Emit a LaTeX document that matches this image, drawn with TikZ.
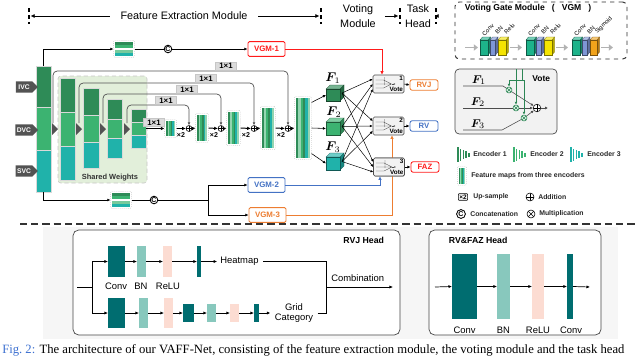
\documentclass[tikz,border=0pt]{standalone}
\usepackage{fontspec}
\usepackage{amsmath}
\setmainfont{Liberation Sans}
\newfontfamily\capfont{Liberation Serif}
\usetikzlibrary{arrows.meta,calc,fit,positioning,shapes.symbols}

\definecolor{encA}{HTML}{2E8B57}
\definecolor{encB}{HTML}{3CB371}
\definecolor{encC}{HTML}{20B2AA}
\definecolor{sharedbg}{HTML}{E2EFDA}
\definecolor{vgmred}{HTML}{FF1A1A}
\definecolor{vgmblue}{HTML}{4472C4}
\definecolor{vgmorange}{HTML}{ED7D31}
\definecolor{convgreen}{HTML}{1DB38A}
\definecolor{bnblue}{HTML}{7E96D6}
\definecolor{reluyellow}{HTML}{F5E400}
\definecolor{sigorange}{HTML}{F2A31B}
\definecolor{headdark}{HTML}{006D70}
\definecolor{headbn}{HTML}{88C8BD}
\definecolor{headrelu}{HTML}{FCDCD2}
\definecolor{figblue}{HTML}{3B6FD0}

\newcommand{\setfs}[2]{\fontsize{#1}{#2}\selectfont}

% feature map icon, vertical stripes
\newcommand{\featmap}[5]{%
  \foreach \i/\clr in {0/encA,1/encB!55!white,2/encB,3/encA,4/encC,5/encB!55!white}
    \fill[\clr] ({#2+\i*(#4-#2)/6},#3) rectangle ({#2+(\i+1)*(#4-#2)/6},#5);
  \node[fit={(#2,#3) (#4,#5)}, box, inner sep=1.1pt, draw=gray!55, densely dotted, rounded corners=1pt] (#1) {};
}
% concat input icon, horizontal stripes
\newcommand{\catmap}[5]{%
  \foreach \i/\clr in {0/encA,1/encB,2/white,3/encB!70!white,4/encC}
    \fill[\clr] (#2,{#3+\i*(#5-#3)/5}) rectangle (#4,{#3+(\i+1)*(#5-#3)/5});
  \node[fit={(#2,#3) (#4,#5)}, box, inner sep=1.1pt, draw=gray!55, densely dotted, rounded corners=1pt] (#1) {};
}
% encoder legend icon
\newcommand{\encicon}[3]{%
  \foreach \i/\h in {0/7.5,1/6,2/4.5,3/3.2,4/2}
    \fill[#3] ({#1+\i*2.8},{#2-\h}) rectangle ({#1+\i*2.8+1.6},{#2+\h});
}
% feature cube
\newcommand{\fcube}[6]{%
  \filldraw[#6!65!white, draw=#6!50!black, line width=0.2pt] (#2,#3) -- (#2+4,#3-4) -- (#4+4,#3-4) -- (#4,#3) -- cycle;
  \filldraw[#6!75!black, draw=#6!50!black, line width=0.2pt] (#4,#3) -- (#4+4,#3-4) -- (#4+4,#5-4) -- (#4,#5) -- cycle;
  \node[fit={(#2,#3) (#4,#5)}, box, fill=#6, draw=#6!50!black, line width=0.2pt] (#1) {};
}
% slab in the VGM legend
\newcommand{\vgmslab}[5]{%
  \filldraw[#5!75!black, draw=#5!50!black, line width=0.2pt] (#2,#3) -- (#2+2.5,#3-3) -- (#2+2.5,#4-3) -- (#2,#4) -- cycle;
  \filldraw[#5!60!white, draw=#5!50!black, line width=0.2pt] (#1,#3) -- (#1+2.5,#3-3) -- (#2+2.5,#3-3) -- (#2,#3) -- cycle;
  \filldraw[#5, draw=#5!50!black, line width=0.2pt] (#1,#3) rectangle (#2,#4);
}
% small sketch inside a vote box
\newcommand{\voteicon}[1]{%
  \draw[gray!60!black, line width=0.25pt]
    ($(#1.center)+(-13,-4)$) -- ($(#1.center)+(-5,-4)$) -- ($(#1.center)+(3,0)$)
    ($(#1.center)+(-13,0)$) -- ($(#1.center)+(3,0)$)
    ($(#1.center)+(-13,4)$) -- ($(#1.center)+(-5,4)$) -- ($(#1.center)+(3,0)$)
    ($(#1.center)+(-4,-7)$) -- ($(#1.center)+(-4,1)$);
  \draw[gray!60!black, line width=0.25pt, -{Latex[length=1.2pt,width=1.2pt]}] ($(#1.center)+(3,0)$) -- ($(#1.center)+(7,0)$);
}

\tikzset{
  box/.style={inner sep=0pt, outer sep=0pt},
  seg/.style={box, draw=white!85!black, line width=0.25pt},
  tick/.style={densely dashed, line width=0.9pt},
  ruler/.style={line width=0.7pt, -{Latex[length=3pt,width=3pt]}},
  skip/.style={gray!65!black, line width=0.5pt, rounded corners=3pt, -{Latex[length=2pt,width=2pt]}},
  onebyone/.style={fill=gray!28, draw=gray!45, inner xsep=2.6pt, inner ysep=0.9pt, font=\bfseries\setfs{5.6}{6}},
  flow/.style={line width=0.7pt, -{Latex[length=2.5pt,width=2.5pt]}},
  thinflow/.style={line width=0.4pt, -{Latex[length=2.2pt,width=2pt]}},
  addop/.style={circle, draw, inner sep=0pt, minimum size=#1, fill=white,
    path picture={\draw (path picture bounding box.north) -- (path picture bounding box.south)
      (path picture bounding box.west) -- (path picture bounding box.east);}},
  mulop/.style={circle, draw, inner sep=0pt, minimum size=#1, fill=white,
    path picture={\draw (path picture bounding box.north west) -- (path picture bounding box.south east)
      (path picture bounding box.north east) -- (path picture bounding box.south west);}},
  catop/.style={circle, draw, line width=0.6pt, inner sep=0pt, minimum size=#1, fill=white, font=\bfseries\setfs{5}{5}},
  invec/.style={signal, signal to=east, fill=gray!65!black, text=white, font=\bfseries\setfs{4.8}{5},
    inner sep=1pt, minimum height=0.28cm, minimum width=0.55cm},
  vgm/.style={draw=#1, line width=0.7pt, fill=white, rounded corners=1pt, text=#1,
    font=\bfseries\setfs{5.6}{6}, minimum width=0.925cm, minimum height=0.37cm, inner sep=0pt},
  outbox/.style={draw=#1, line width=0.6pt, fill=white, rounded corners=1.5pt, text=#1,
    font=\bfseries\setfs{5.5}{6}, minimum width=0.7cm, minimum height=0.26cm, inner sep=0pt},
  votebox/.style={draw=gray!60!black, fill=gray!10, rounded corners=1pt, line width=0.4pt,
    minimum width=0.775cm, minimum height=0.45cm, inner sep=0pt},
  votetxt/.style={font=\bfseries\setfs{4.5}{5}, inner sep=0.8pt},
  vgmarrow/.style={gray!60, line width=1.4pt, -{Triangle[length=3pt,width=4.5pt]}},
  slabtxt/.style={rotate=45, anchor=west, inner sep=0pt, font=\setfs{4.2}{5}},
  legline/.style={gray!60!black, line width=0.4pt},
  gateline/.style={encB!75!black, line width=0.5pt},
  legend/.style={font=\bfseries\setfs{4.9}{6}, anchor=west, inner sep=0pt, text=black!85},
  headtxt/.style={font=\setfs{6.7}{7.6}},
  hflow/.style={line width=0.5pt, -{Latex[length=2.5pt,width=2.2pt]}},
}

\begin{document}
\begin{tikzpicture}[x=0.025cm, y=-0.025cm]
\useasboundingbox (0,0) rectangle (640,356);

% module ruler
\draw[tick] (29,8) -- (29,24);
\draw[tick] (321,8) -- (321,24);
\draw[tick] (400,8) -- (400,24);
\draw[tick] (436,8) -- (436,24);
\coordinate (t0) at (30.5,16);
\coordinate (t1) at (319.5,16);
\coordinate (t2) at (398.5,16);
\coordinate (t3) at (434.5,16);
\node[font=\setfs{7.7}{10.5}] (fem) at (184,16) {Feature Extraction Module};
\node[font=\setfs{7.7}{10.5}, align=center] (vm) at (358,16) {Voting\\Module};
\node[font=\setfs{7.7}{10.5}, align=center] (th) at (418,16) {Task\\Head};
\draw[ruler] ([xshift=-4pt]fem.west) -- (t0);
\draw[ruler] ([xshift=4pt]fem.east) -- (t1);
\draw[ruler] ([xshift=3pt]vm.east) -- (t2);
\draw[ruler] (th.east) -- (t3);

% shared weights area
\node[fit={(58,76) (147,183)}, box, fill=sharedbg, draw=gray!45, densely dashed, rounded corners=2pt] (shared) {};
\node[font=\bfseries\setfs{5.3}{6}, text=black!80] (sharedtxt) at (110,178) {Shared Weights};

% skip connections
\coordinate (tri1) at (53,123);
\coordinate (tri2) at (79,123);
\coordinate (tri3) at (103,123);
\coordinate (tri4) at (127,123);
\node[addop=0.15cm] (add1) at (189,128.5) {};
\node[addop=0.15cm] (add2) at (221,128.5) {};
\node[addop=0.15cm] (add3) at (254,128.5) {};
\node[addop=0.15cm] (add4) at (288,128.5) {};
\draw[skip] (tri1) |- (add4.north |- 0,71) -- (add4.north);
\draw[skip] (tri2) |- (add3.north |- 0,83) -- (add3.north);
\draw[skip] (tri3) |- (add2.north |- 0,94) -- (add2.north);
\draw[skip] (tri4) |- (add1.north |- 0,105) -- (add1.north);
\node[onebyone] (k1) at (226,66) {1×1};
\node[onebyone] (k2) at (206,78.5) {1×1};
\node[onebyone] (k3) at (187,89.5) {1×1};
\node[onebyone] (k4) at (166,100.5) {1×1};

% input column
\node[fit={(36,66) (51,107)}, seg, fill=encA] (c0a) {};
\node[fit={(36,107) (51,150)}, seg, fill=encB] (c0b) {};
\node[fit={(36,150) (51,192)}, seg, fill=encC] (c0c) {};
\node[invec] (ivc) at (24,87) {IVC};
\node[invec] (dvc) at (24,130) {DVC};
\node[invec] (svc) at (24,171) {SVC};

% encoder columns
\node[fit={(60,78) (75,112)}, seg, fill=encA] (cAa) {};
\node[fit={(60,112) (75,146)}, seg, fill=encB] (cAb) {};
\node[fit={(60,146) (75,180)}, seg, fill=encC] (cAc) {};
\node[fit={(83,88) (99,115)}, seg, fill=encA] (cBa) {};
\node[fit={(83,115) (99,142)}, seg, fill=encB] (cBb) {};
\node[fit={(83,142) (99,168)}, seg, fill=encC] (cBc) {};
\node[fit={(107,99) (122,119)}, seg, fill=encA] (cCa) {};
\node[fit={(107,119) (122,138)}, seg, fill=encB] (cCb) {};
\node[fit={(107,138) (122,158)}, seg, fill=encC] (cCc) {};
\node[fit={(131,109) (146,122)}, seg, fill=encA] (cDa) {};
\node[fit={(131,122) (146,135)}, seg, fill=encB] (cDb) {};
\node[fit={(131,135) (146,148)}, seg, fill=encC] (cDc) {};
\fill[gray!65!black] (52,123) -- (58,129) -- (52,135) -- cycle;
\fill[gray!65!black] (76,123) -- (82,129) -- (76,135) -- cycle;
\fill[gray!65!black] (100,123) -- (106,129) -- (100,135) -- cycle;
\fill[gray!65!black] (124,123) -- (130,129) -- (124,135) -- cycle;

% decoder
\featmap{fm1}{166}{121}{175}{136}
\featmap{fm2}{197}{115}{207}{141}
\featmap{fm3}{228}{112}{239}{144}
\featmap{fm4}{262}{108}{274}{148}
\featmap{fm5}{296}{98}{310}{158}
\node[onebyone] (kb) at (154,122.5) {1×1};
\draw[flow, line width=1pt] (cDb.east) -- (fm1.west);
\draw[flow] (fm1.east) -- (add1.west);
\draw[flow] (add1.east) -- (fm2.west);
\draw[flow] (fm2.east) -- (add2.west);
\draw[flow] (add2.east) -- (fm3.west);
\draw[flow] (fm3.east) -- (add3.west);
\draw[flow] (add3.east) -- (fm4.west);
\draw[flow] (fm4.east) -- (add4.west);
\draw[flow] (add4.east) -- (fm5.west);
\node[font=\bfseries\setfs{5}{6}] (up1) at (181,135) {×2};
\node[font=\bfseries\setfs{5}{6}] (up2) at (214,135) {×2};
\node[font=\bfseries\setfs{5}{6}] (up3) at (246,135) {×2};
\node[font=\bfseries\setfs{5}{6}] (up4) at (281,135) {×2};

% concatenation branches
\catmap{topicon}{115}{42}{133}{56}
\catmap{boticon}{112}{193}{130}{207}
\node[catop=0.19cm] (cat1) at (168,49) {C};
\node[catop=0.19cm] (cat2) at (154,200) {C};
\node[vgm=vgmred] (vgm1) at (266.5,49) {VGM-1};
\node[vgm=vgmblue] (vgm2) at (266.5,185) {VGM-2};
\node[vgm=vgmorange] (vgm3) at (267.5,215) {VGM-3};
\coordinate (split) at (208,200);
\draw[thinflow] (c0a.north) |- (topicon.west);
\draw[line width=0.4pt] (topicon.east) -- (cat1.west);
\draw[thinflow] (cat1.east) -- (vgm1.west);
\draw[thinflow] (c0c.south) |- (boticon.west);
\draw[line width=0.4pt] (boticon.east) -- (cat2.west);
\draw[line width=0.4pt] (cat2.east) -- (split);
\draw[thinflow] (split) |- (vgm2.west);
\draw[thinflow] (split) |- (vgm3.west);

% voting module
\node[votebox] (vote1) at (388.5,84) {};
\node[votebox] (vote2) at (388.5,126) {};
\node[votebox] (vote3) at (389,167) {};
\draw[vgmorange, line width=0.6pt, -{Latex[length=2.5pt,width=2.5pt]}] (vgm3.east) -| ($(vote2.south)+(3.5,0)$);
\node[votebox] at (vote3) {};
\draw[vgmred, line width=0.6pt, -{Latex[length=2.5pt,width=2.5pt]}] (vgm1.east) -| ($(vote1.north)+(-6.5,0)$);
\draw[vgmblue, line width=0.6pt, -{Latex[length=2.5pt,width=2.5pt]}] (vgm2.east) -| ($(vote3.south)+(-9,0)$);
\voteicon{vote1}
\voteicon{vote2}
\voteicon{vote3}
\node[votetxt, anchor=north east] (vote1num) at (vote1.north east) {1};
\node[votetxt, anchor=north east] (vote2num) at (vote2.north east) {2};
\node[votetxt, anchor=north east] (vote3num) at (vote3.north east) {3};
\node[votetxt, anchor=south east] (vote1txt) at (vote1.south east) {Vote};
\node[votetxt, anchor=south east] (vote2txt) at (vote2.south east) {Vote};
\node[votetxt, anchor=south east] (vote3txt) at (vote3.south east) {Vote};

% feature cubes
\fcube{F1}{326}{89}{340}{101}{encA}
\fcube{F2}{326}{122}{340}{135}{encB}
\fcube{F3}{326}{157}{340}{170}{encC}
\node[font=\setfs{9}{10}] (F1lbl) at (333,78) {$\boldsymbol{F}_{\!1}$};
\node[font=\setfs{9}{10}] (F2lbl) at (334,112) {$\boldsymbol{F}_{\!2}$};
\node[font=\setfs{9}{10}] (F3lbl) at (333,147) {$\boldsymbol{F}_{\!3}$};
\draw[thinflow] ($(fm5.north east)+(0,6)$) -- (F1.west);
\draw[thinflow] (fm5.east) -- (F2.west);
\draw[thinflow] ($(fm5.south east)+(0,-6)$) -- (F3.west);
\foreach \f/\dy in {F1/-5,F2/0,F3/5}
  \foreach \v in {vote1,vote2,vote3}
    \draw[line width=0.35pt, -{Latex[length=2pt,width=1.8pt]}] ($(\f.east)+(2,-2)$) -- ($(\v.west)+(0,\dy)$);

% task outputs
\node[outbox=vgmorange] (rvj) at (424,85) {RVJ};
\node[outbox=vgmblue] (rv) at (424,126) {RV};
\node[outbox=vgmred] (faz) at (425,167) {FAZ};
\draw[thinflow] (vote1.east) -- (rvj.west);
\draw[thinflow] (vote2.east) -- (rv.west);
\draw[thinflow] (vote3.east) -- (faz.west);

% VGM legend
\node[fit={(455,2) (627,59)}, box, draw=gray!35!black, dashed, line width=0.7pt, rounded corners=3pt] (vgmlegend) {};
\node[anchor=west, font=\bfseries\setfs{6.1}{7}] (vgmtitle) at (460,8.5) {Voting Gate Module\hspace{5pt}(\hspace{5pt}VGM\hspace{5pt})};
\draw[vgmarrow] (465,47.5) -- (478,47.5);
\vgmslab{480}{488}{40}{55}{convgreen}
\vgmslab{490}{495.5}{40}{55}{bnblue}
\vgmslab{498}{506}{40}{55}{reluyellow}
\draw[vgmarrow] (510,47.5) -- (522,47.5);
\vgmslab{526}{534}{40}{55}{convgreen}
\vgmslab{536}{541.5}{40}{55}{bnblue}
\vgmslab{544}{552}{40}{55}{reluyellow}
\draw[vgmarrow] (556,47.5) -- (568,47.5);
\vgmslab{572}{580}{40}{55}{convgreen}
\vgmslab{582}{587.5}{40}{55}{bnblue}
\vgmslab{590}{597}{40}{55}{sigorange}
\draw[vgmarrow] (601,47.5) -- (613,47.5);
\node[slabtxt] (s1) at (483,35) {Conv};
\node[slabtxt] (s2) at (496,33) {BN};
\node[slabtxt] (s3) at (505,33) {Relu};
\node[slabtxt] (s4) at (529,35) {Conv};
\node[slabtxt] (s5) at (542,33) {BN};
\node[slabtxt] (s6) at (551,33) {Relu};
\node[slabtxt] (s7) at (575,35) {Conv};
\node[slabtxt] (s8) at (588,33) {BN};
\node[slabtxt] (s9) at (596,33) {Sigmoid};

% vote legend
\node[fit={(455,69) (557,134)}, box, draw=gray!60!black, fill=gray!10, rounded corners=3pt, line width=0.5pt] (votelegend) {};
\node[anchor=north east, font=\bfseries\setfs{6}{7}] (votetitle) at (555,71) {Vote};
\node[font=\setfs{8}{9}] (lF1) at (479,80) {$\boldsymbol{F}_{\!1}$};
\node[font=\setfs{8}{9}] (lF2) at (478,102) {$\boldsymbol{F}_{\!2}$};
\node[font=\setfs{8}{9}] (lF3) at (478,124) {$\boldsymbol{F}_{\!3}$};
\node[mulop=0.15cm, draw=encB!75!black, fill=encB!15] (lm1) at (509,90) {};
\node[mulop=0.15cm, draw=encB!75!black, fill=encB!15] (lm2) at (516,108) {};
\node[mulop=0.15cm, draw=encB!75!black, fill=encB!15] (lm3) at (524,118) {};
\node[addop=0.19cm] (ladd) at (537,108) {};
\coordinate (lgo) at (548,108);
\draw[legline] (463,86) -- (503,86) -- (lm1);
\draw[legline, -{Latex[length=2pt,width=2pt]}] (lm1) -- (ladd);
\draw[legline] (463,108) -- (lm2);
\draw[legline, -{Latex[length=2pt,width=2pt]}] (lm2) -- (ladd);
\draw[legline] (463,130) -- (502,130) -- (lm3);
\draw[legline, -{Latex[length=2pt,width=2pt]}] (lm3) -- (ladd);
\draw[legline, -{Latex[length=2pt,width=2pt]}] (ladd) -- (lgo);
\draw[gateline, -{Latex[length=2pt,width=2pt]}] (lm2.north |- votelegend.north) -- (lm2.north);
\draw[gateline] (522,69) -- (522,80);
\draw[gateline] (lm1.north |- 0,80) -- (lm3.north |- 0,80);
\draw[gateline, -{Latex[length=2pt,width=2pt]}] (lm1.north |- 0,80) -- (lm1.north);
\draw[gateline, -{Latex[length=2pt,width=2pt]}] (lm3.north |- 0,80) -- (lm3.north);

% symbol legend
\encicon{457}{154.5}{encA}
\node[legend] (lenc1) at (473,154.5) {Encoder 1};
\encicon{513}{154.5}{encB}
\node[legend] (lenc2) at (530,154.5) {Encoder 2};
\encicon{570}{154.5}{encC}
\node[legend] (lenc3) at (587,154.5) {Encoder 3};
\featmap{lgfm}{459}{168}{465}{184}
\node[legend] (lfm) at (471,176) {Feature maps from three encoders};
\node[draw, rounded corners=0.5pt, inner sep=0.7pt, line width=0.4pt, font=\bfseries\setfs{4.6}{5}] (lgup) at (463,197) {×2};
\node[legend] (lup) at (473,197) {Up-sample};
\node[addop=0.2cm] (lgadd) at (530,197) {};
\node[legend] (ladd2) at (538,197) {Addition};
\node[catop=0.22cm] (lgcat) at (461,214) {C};
\node[legend] (lcat) at (470,214) {Concatenation};
\node[mulop=0.2cm] (lgmul) at (531,214) {};
\node[legend] (lmul) at (539,214) {Multiplication};

% separator
\draw[line width=1pt, gray!40!black, dash pattern=on 5pt off 3pt] (20,224) -- (636,224);

% task heads
\fill[gray!7] (43,227) rectangle (618,339);
\node[fit={(73,230) (400,335)}, box, draw=gray!55!black, fill=white, rounded corners=4pt, line width=0.5pt] (rvjhead) {};
\node[font=\bfseries\setfs{6.2}{7}, anchor=east] (rvjtitle) at (389,240) {RVJ Head};
\coordinate (rvjin) at (77,287);
\coordinate (rvjsplit) at (92,287);
\node[fit={(108,246) (125,277)}, box, fill=headdark] (tconv) {};
\node[fit={(137,246) (146,277)}, box, fill=headbn] (tbn) {};
\node[fit={(163,246) (172,277)}, box, fill=headrelu] (trelu) {};
\node[fit={(197,246) (201,277)}, box, fill=headdark] (tconv2) {};
\node[headtxt, anchor=west, inner sep=0pt] (heatmap) at (220,261.5) {Heatmap};
\node[headtxt] (tconvlbl) at (116,286) {Conv};
\node[headtxt] (tbnlbl) at (141,286) {BN};
\node[headtxt] (trelulbl) at (168,286) {ReLU};
\node[fit={(108,298) (125,328)}, box, fill=headdark] (bconv) {};
\node[fit={(139,298) (148,328)}, box, fill=headbn] (bbn) {};
\node[fit={(164,298) (173,328)}, box, fill=headrelu] (brelu) {};
\node[fit={(183,304) (194,322)}, box, fill=headdark] (bconv2) {};
\node[fit={(207,304) (216,322)}, box, fill=headbn] (bbn2) {};
\node[fit={(230,304) (239,322)}, box, fill=headrelu] (brelu2) {};
\node[fit={(254,304) (259,322)}, box, fill=headdark] (bconv3) {};
\node[headtxt, align=center, inner sep=0pt] (grid) at (294,313) {Grid\\Category};
\coordinate (comb) at (326,287);
\coordinate (rvjout) at (393,287);
\node[headtxt, anchor=west, inner sep=0pt] (combtxt) at (331,278.5) {Combination};
\draw[line width=0.5pt] (rvjin) -- (rvjsplit);
\draw[hflow] (rvjsplit) |- (tconv.west);
\draw[hflow] (tconv.east) -- (tbn.west);
\draw[hflow] (tbn.east) -- (trelu.west);
\draw[hflow] (trelu.east) -- (tconv2.west);
\draw[hflow] (tconv2.east) -- ([xshift=-2pt]heatmap.west);
\draw[hflow] (rvjsplit) |- (bconv.west);
\draw[hflow] (bconv.east) -- (bbn.west);
\draw[hflow] (bbn.east) -- (brelu.west);
\draw[hflow] (brelu.east) -- (bconv2.west);
\draw[hflow] (bconv2.east) -- (bbn2.west);
\draw[hflow] (bbn2.east) -- (brelu2.west);
\draw[hflow] (brelu2.east) -- (bconv3.west);
\draw[hflow] (bconv3.east) -- ([xshift=-3pt]grid.west);
\draw[line width=0.5pt] ([xshift=3pt]heatmap.east) -| (comb);
\draw[line width=0.5pt] ([xshift=3pt]grid.east) -| (comb);
\draw[hflow] (comb) -- (rvjout);

\node[fit={(429,230) (601,335)}, box, draw=gray!55!black, fill=white, rounded corners=4pt, line width=0.5pt] (rvfhead) {};
\node[font=\bfseries\setfs{6.2}{7}, anchor=west] (rvftitle) at (444,240) {RV\&FAZ Head};
\coordinate (rvfin) at (435,287);
\coordinate (rvfout) at (590,287);
\node[fit={(452,254) (477,319)}, box, fill=headdark] (rconv) {};
\node[fit={(497,254) (510,319)}, box, fill=headbn] (rbn) {};
\node[fit={(532,254) (544,319)}, box, fill=headrelu] (rrelu) {};
\node[fit={(567,254) (573,319)}, box, fill=headdark] (rconv2) {};
\draw[hflow] (rvfin) -- (rconv.west);
\draw[hflow] (rconv.east) -- (rbn.west);
\draw[hflow] (rbn.east) -- (rrelu.west);
\draw[hflow] (rrelu.east) -- (rconv2.west);
\draw[hflow] (rconv2.east) -- (rvfout);
\node[headtxt] (rconvlbl) at (464.5,330) {Conv};
\node[headtxt] (rbnlbl) at (503.5,330) {BN};
\node[headtxt] (rrelulbl) at (538,330) {ReLU};
\node[headtxt] (rconv2lbl) at (571,330) {Conv};

% caption
\node[font=\capfont\setfs{9}{10}, anchor=base west, inner sep=0pt] (caption) at (2,353)
  {\textcolor{figblue}{Fig.~2:} The architecture of our VAFF-Net, consisting of the feature extraction module, the voting module and the task head};
\end{tikzpicture}
\end{document}
